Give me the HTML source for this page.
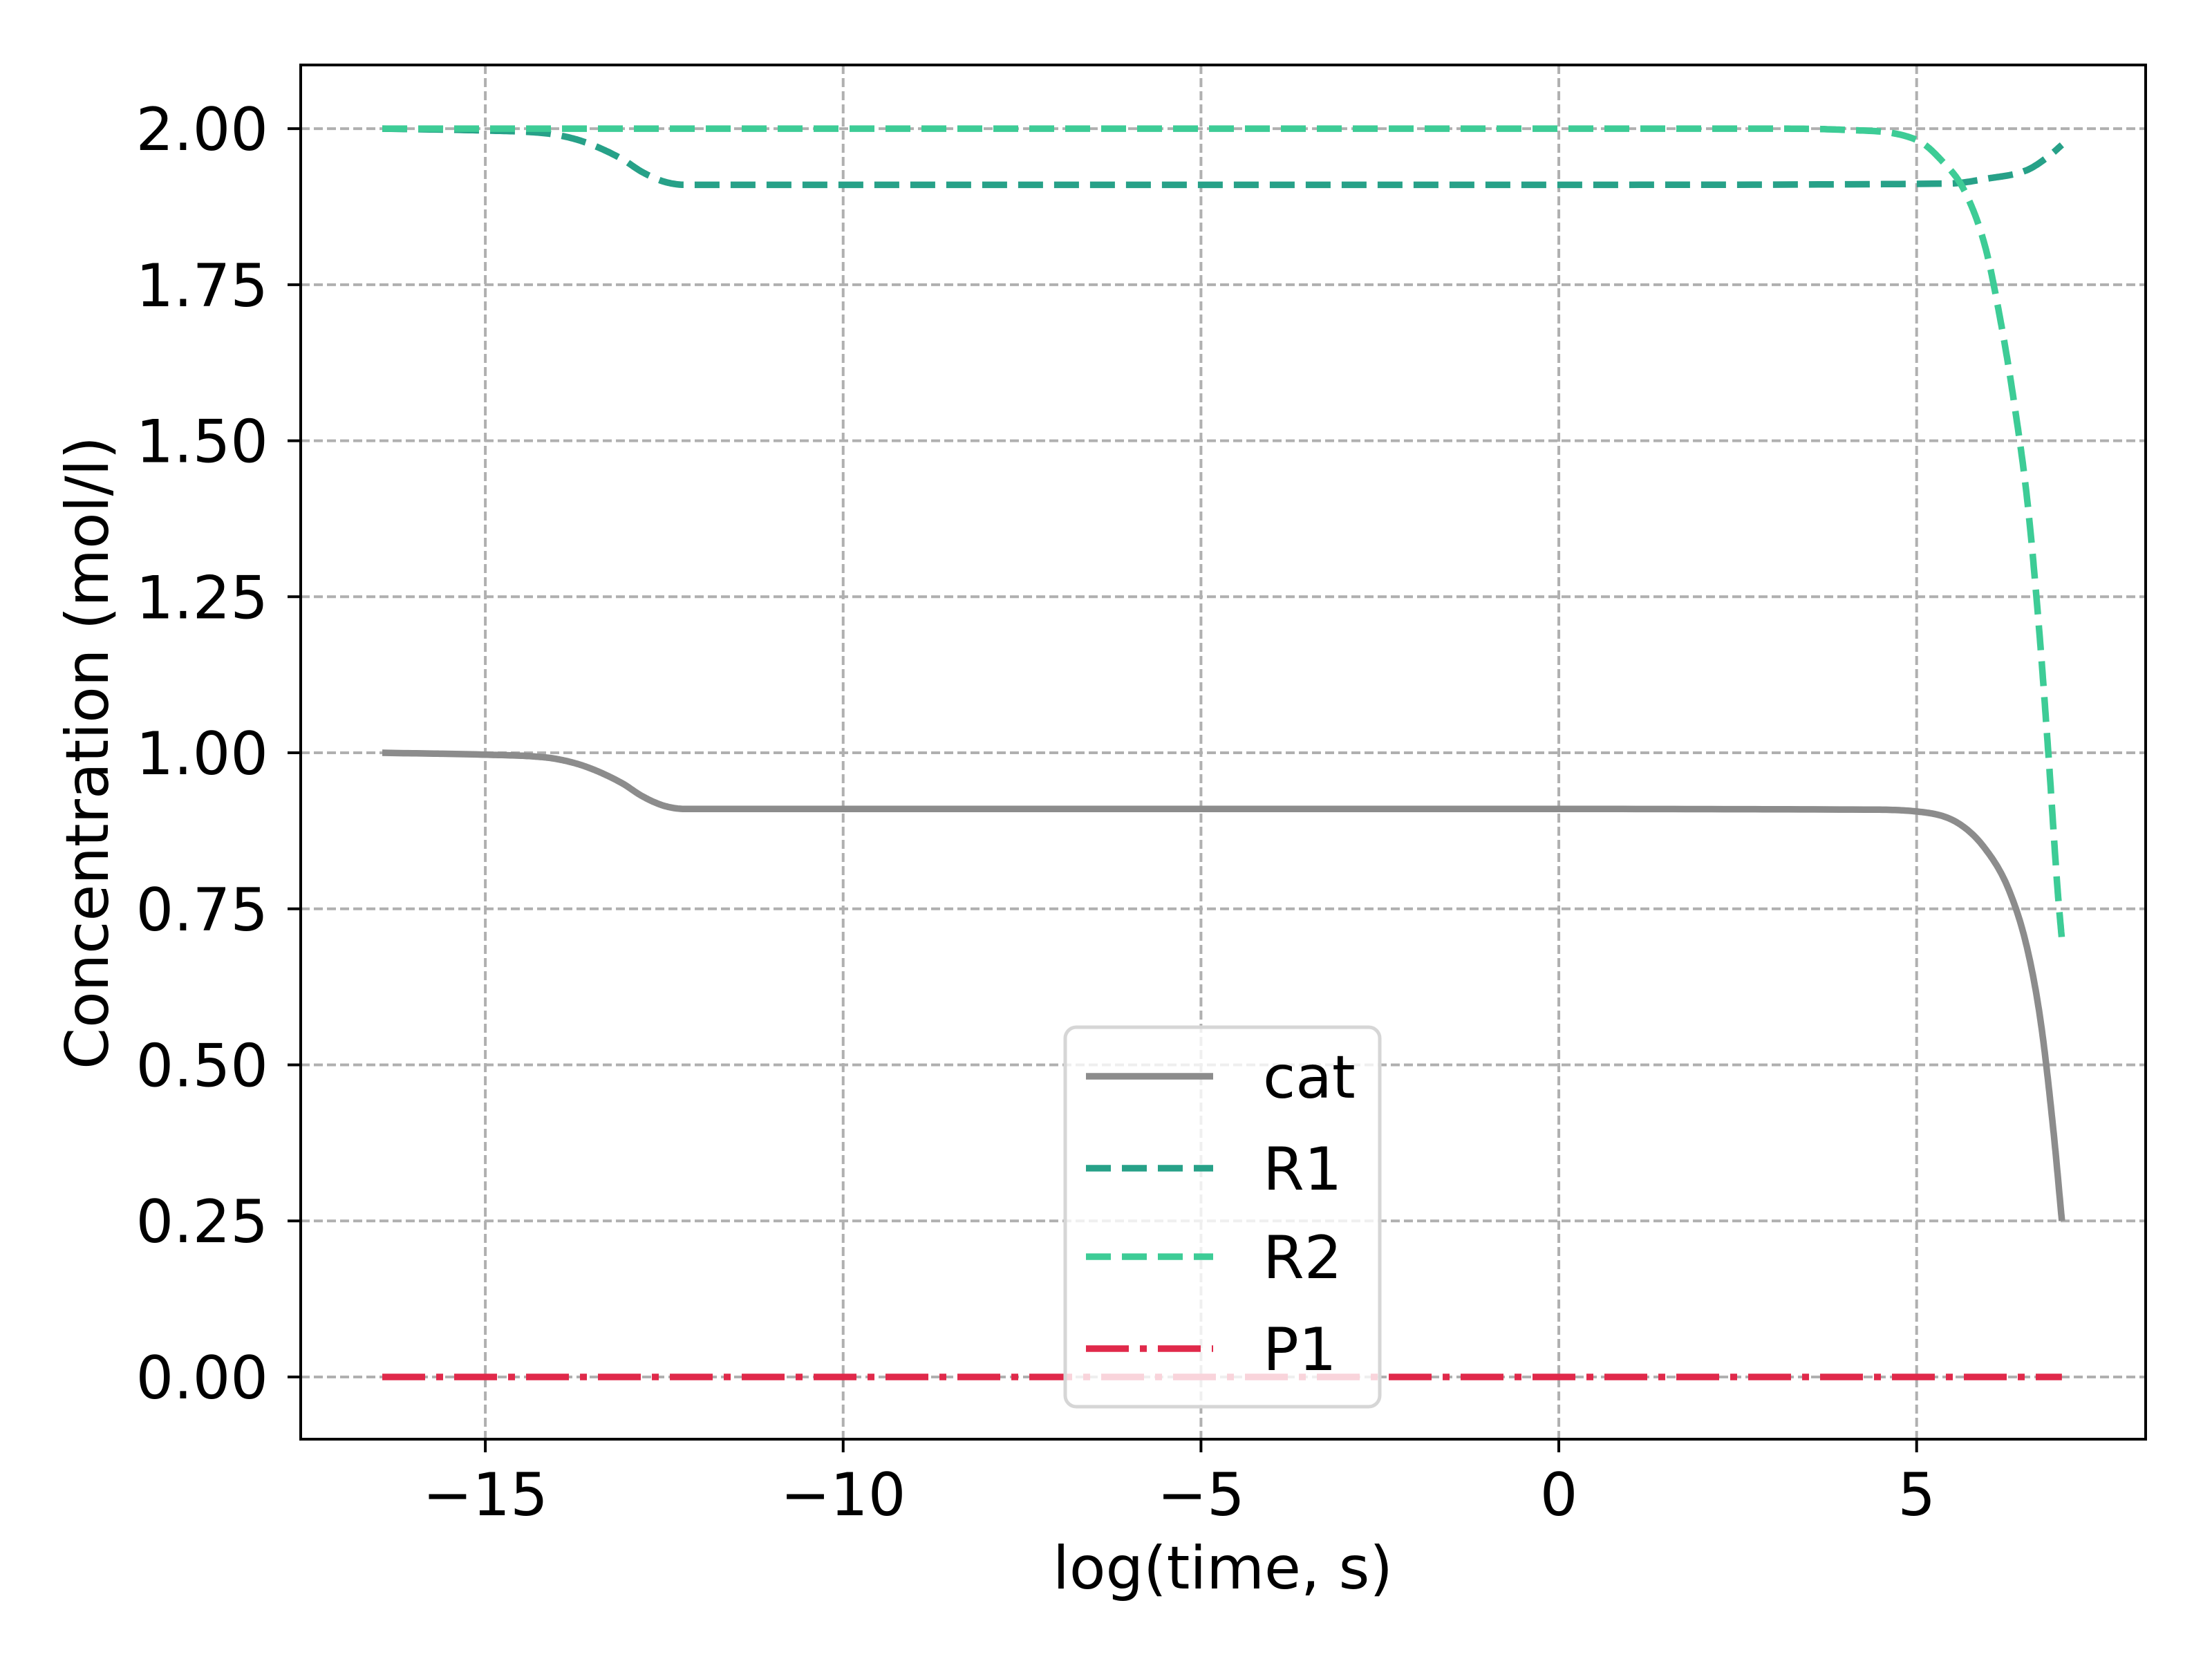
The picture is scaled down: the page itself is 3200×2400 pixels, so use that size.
<!DOCTYPE html>
<html><head><meta charset="utf-8"><style>
html,body{margin:0;padding:0;background:#fff;}
svg{display:block;font-family:"DejaVu Sans","Liberation Sans",sans-serif;}
</style></head><body>
<svg id="chart" width="3200" height="2400" viewBox="0 0 3200 2400" xmlns="http://www.w3.org/2000/svg">
<rect x="0" y="0" width="3200" height="2400" fill="#fff"/>
<g id="grid"></g>
<g id="series"></g>
<rect x="435" y="94" width="2669" height="1988" fill="none" stroke="#000" stroke-width="4"/>
<g id="ticks"></g>
<text x="1769" y="2298" font-size="86" text-anchor="middle">log(time, s)</text>
<text x="0" y="0" font-size="86" text-anchor="middle" transform="translate(156,1089) rotate(-90)">Concentration (mol/l)</text>
<g id="legend"></g>
</svg>
<script>
const xTicks = [-15, -10, -5, 0, 5];
const xTickLabels = ["\u221215", "\u221210", "\u22125", "0", "5"];
const yTicks = [0, 0.25, 0.5, 0.75, 1.0, 1.25, 1.5, 1.75, 2.0];
const yTickLabels = ["0.00", "0.25", "0.50", "0.75", "1.00", "1.25", "1.50", "1.75", "2.00"];
const seriesNames = ["cat", "R1", "R2", "P1"];
const catX = [-16.44, -15, -14.3, -14.0, -13.6, -13.1, -12.8, -12.5, -12.2, 0, 4.27, 5.0, 5.57, 5.96, 6.29, 6.55, 6.74, 6.91, 7.03];
const catY = [1.0, 0.997, 0.994, 0.99, 0.978, 0.952, 0.93, 0.915, 0.91, 0.91, 0.909, 0.906, 0.888, 0.846, 0.78, 0.684, 0.564, 0.396, 0.25];
const r1X = [-16.44, -15, -14.3, -14.0, -13.6, -13.1, -12.8, -12.5, -12.2, 0, 5.44, 5.99, 6.55, 6.87, 7.03];
const r1Y = [2.0, 1.997, 1.994, 1.99, 1.978, 1.952, 1.93, 1.915, 1.91, 1.91, 1.912, 1.92, 1.934, 1.958, 1.974];
const r2X = [-16.44, 0, 3, 4, 5, 5.34, 5.67, 5.96, 6.16, 6.35, 6.55, 6.71, 6.84, 6.97, 7.03];
const r2Y = [2.0, 2.0, 2.0, 1.998, 1.982, 1.95, 1.9, 1.81, 1.7, 1.57, 1.4, 1.2, 1.0, 0.78, 0.70];
const p1X = [-16.44, 7.03];
const p1Y = [0, 0];

const X0 = 435, X1 = 3104, Y0 = 94, Y1 = 2082;
const XMIN = -17.58, XMAX = 8.2, YMIN = -0.0997, YMAX = 2.102;
function sx(v){ return X0 + (v - XMIN) / (XMAX - XMIN) * (X1 - X0); }
function sy(v){ return Y1 - (v - YMIN) / (YMAX - YMIN) * (Y1 - Y0); }
const NS = "http://www.w3.org/2000/svg";
function mk(tag, parent){ const e = document.createElementNS(NS, tag); parent.appendChild(e); return e; }

const grid = document.getElementById('grid');
const ticks = document.getElementById('ticks');
xTicks.forEach((t, i) => {
  const g = mk('line', grid);
  
  
  g.setAttribute('x1', sx(t)); g.setAttribute('x2', sx(t)); g.setAttribute('y1', Y0); g.setAttribute('y2', Y1);
  g.setAttribute('stroke', '#b0b0b0'); g.setAttribute('stroke-width', 4); g.setAttribute('stroke-dasharray', '13 6');
  const tk = mk('line', ticks);
  
  
  tk.setAttribute('x1', sx(t)); tk.setAttribute('x2', sx(t)); tk.setAttribute('y1', Y1); tk.setAttribute('y2', Y1 + 19);
  tk.setAttribute('stroke', '#000'); tk.setAttribute('stroke-width', 4);
  const tl = mk('text', ticks);
  
  
  tl.setAttribute('x', sx(t)); tl.setAttribute('y', 2192); tl.setAttribute('font-size', 86); tl.setAttribute('text-anchor', 'middle');
  tl.textContent = xTickLabels[i];
});
yTicks.forEach((t, i) => {
  const g = mk('line', grid);
  
  
  g.setAttribute('x1', X0); g.setAttribute('x2', X1); g.setAttribute('y1', sy(t)); g.setAttribute('y2', sy(t));
  g.setAttribute('stroke', '#b0b0b0'); g.setAttribute('stroke-width', 4); g.setAttribute('stroke-dasharray', '13 6');
  const tk = mk('line', ticks);
  
  
  tk.setAttribute('x1', X0 - 19); tk.setAttribute('x2', X0); tk.setAttribute('y1', sy(t)); tk.setAttribute('y2', sy(t));
  tk.setAttribute('stroke', '#000'); tk.setAttribute('stroke-width', 4);
  const tl = mk('text', ticks);
  
  
  tl.setAttribute('x', X0 - 47); tl.setAttribute('y', sy(t) + 31); tl.setAttribute('font-size', 86); tl.setAttribute('text-anchor', 'end');
  tl.textContent = yTickLabels[i];
});

// monotone cubic (Fritsch-Carlson) sampled path
function smoothPath(xs, ys){
  const n = xs.length;
  if (n < 3) return 'M' + xs.map((x, i) => sx(x) + ',' + sy(ys[i])).join(' L');
  const d = [], m = new Array(n);
  for (let i = 0; i < n - 1; i++) d.push((ys[i+1] - ys[i]) / (xs[i+1] - xs[i]));
  m[0] = d[0]; m[n-1] = d[n-2];
  for (let i = 1; i < n - 1; i++) m[i] = (d[i-1] * d[i] <= 0) ? 0 : (d[i-1] + d[i]) / 2;
  for (let i = 0; i < n - 1; i++) {
    if (d[i] === 0) { m[i] = 0; m[i+1] = 0; continue; }
    const a = m[i] / d[i], b = m[i+1] / d[i], s = a*a + b*b;
    if (s > 9) { const t = 3 / Math.sqrt(s); m[i] = t*a*d[i]; m[i+1] = t*b*d[i]; }
  }
  let path = 'M' + sx(xs[0]) + ',' + sy(ys[0]);
  for (let i = 0; i < n - 1; i++) {
    const h = xs[i+1] - xs[i];
    const steps = 24;
    for (let k = 1; k <= steps; k++) {
      const t = k / steps, t2 = t*t, t3 = t2*t;
      const y = (2*t3 - 3*t2 + 1) * ys[i] + (t3 - 2*t2 + t) * h * m[i] + (-2*t3 + 3*t2) * ys[i+1] + (t3 - t2) * h * m[i+1];
      path += ' L' + sx(xs[i] + t*h).toFixed(1) + ',' + sy(y).toFixed(1);
    }
  }
  return path;
}
const styles = [
  {c:'#8c8c8c', dash:'', xs:catX, ys:catY},
  {c:'#27a188', dash:'36 16', xs:r1X, ys:r1Y},
  {c:'#3dcc96', dash:'36 16', xs:r2X, ys:r2Y},
  {c:'#e0294a', dash:'62 16 10 16', xs:p1X, ys:p1Y}
];
const series = document.getElementById('series');
styles.forEach((s, i) => {
  const path = mk('path', series);
  
  
  path.setAttribute('d', smoothPath(s.xs, s.ys));
  path.setAttribute('fill', 'none'); path.setAttribute('stroke', s.c); path.setAttribute('stroke-width', 9.5);
  path.setAttribute('stroke-linejoin', 'round');
  if (s.dash) path.setAttribute('stroke-dasharray', s.dash);
});

const legend = document.getElementById('legend');
const box = mk('rect', legend);


box.setAttribute('x', 1541); box.setAttribute('y', 1486); box.setAttribute('width', 455); box.setAttribute('height', 549);
box.setAttribute('rx', 16); box.setAttribute('fill', 'rgba(255,255,255,0.8)'); box.setAttribute('stroke', '#d6d6d6'); box.setAttribute('stroke-width', 5);
const rowsY = [1557, 1690, 1818, 1951];
styles.forEach((s, i) => {
  const ln = mk('line', legend);
  
  
  ln.setAttribute('x1', 1571); ln.setAttribute('x2', 1755); ln.setAttribute('y1', rowsY[i]); ln.setAttribute('y2', rowsY[i]);
  ln.setAttribute('stroke', s.c); ln.setAttribute('stroke-width', 9.5);
  if (s.dash) ln.setAttribute('stroke-dasharray', s.dash);
  const tx = mk('text', legend);
  
  
  tx.setAttribute('x', 1827); tx.setAttribute('y', rowsY[i] + 31); tx.setAttribute('font-size', 86);
  tx.textContent = seriesNames[i];
});
</script>
</body></html>
